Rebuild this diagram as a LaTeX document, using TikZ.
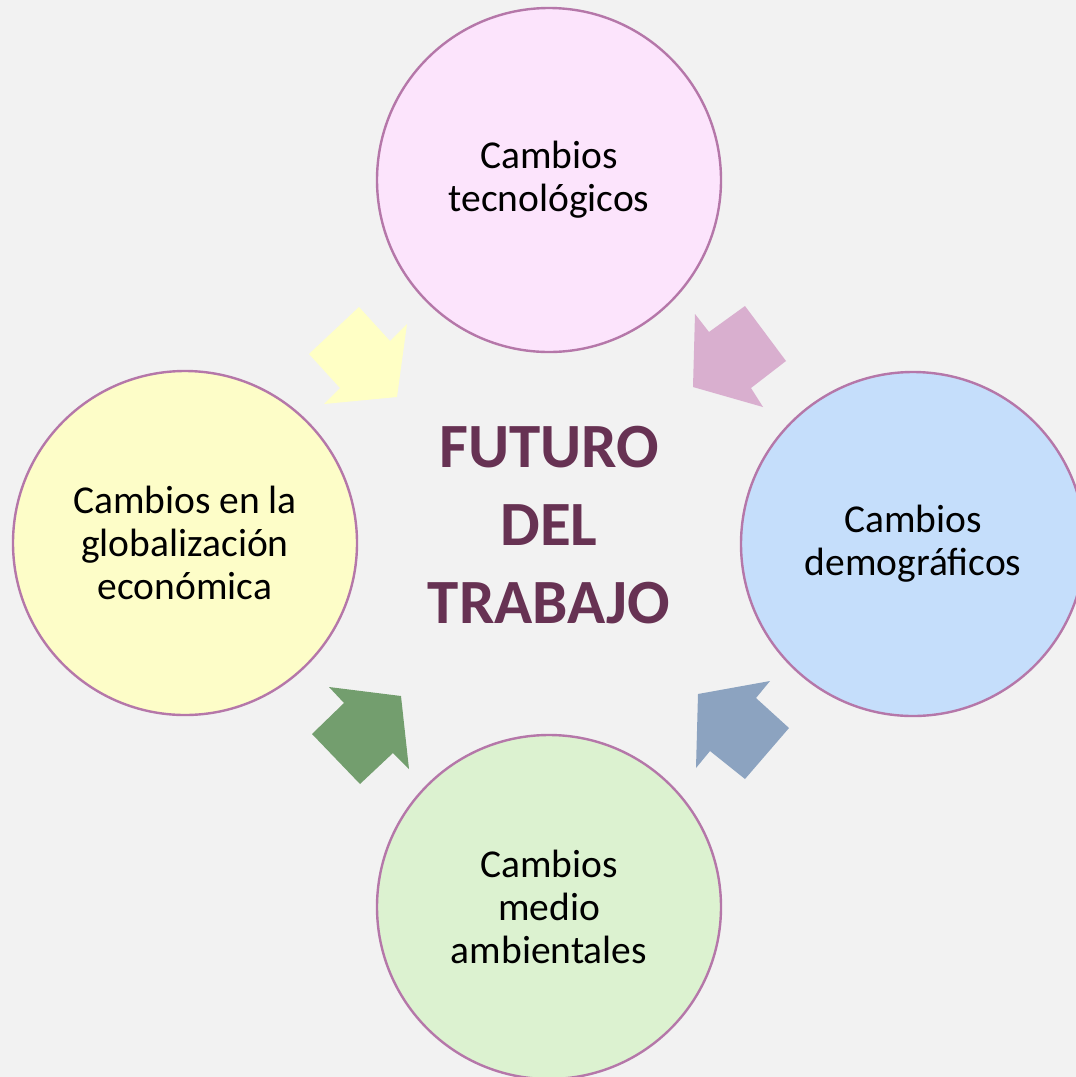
\documentclass[tikz,border=0pt]{standalone}
\usepackage{fontspec}
\setmainfont{Carlito}
\definecolor{bgc}{HTML}{F2F2F2}
\definecolor{ringc}{HTML}{B577A9}
\definecolor{topc}{HTML}{FCE4FC}
\definecolor{rightc}{HTML}{C5DEFB}
\definecolor{bottomc}{HTML}{DCF2D0}
\definecolor{leftc}{HTML}{FDFDC8}
\definecolor{arrY}{HTML}{FFFFC5}
\definecolor{arrP}{HTML}{D9AFCF}
\definecolor{arrG}{HTML}{739E6E}
\definecolor{arrB}{HTML}{8CA3C0}
\definecolor{titlec}{HTML}{673253}
\begin{document}
\begin{tikzpicture}[x=1pt,y=-1pt,
  bubble/.style={circle,draw=ringc,line width=2.4pt,minimum size=344pt,inner sep=0pt,
    align=center,font=\fontsize{39.5}{43}\selectfont,text=black},
  blockarrow/.style={draw=none}]
\fill[bgc] (0,0) rectangle (1076,1077);
\useasboundingbox (0,0) rectangle (1076,1077);
\clip (0,0) rectangle (1076,1077);
\node[bubble,fill=topc] (top) at (549,180) {Cambios\\tecnológicos};
\node[bubble,fill=rightc] (right) at (913,544) {Cambios\\demográficos};
\node[bubble,fill=bottomc] (bottom) at (549,907) {Cambios\\medio\\ambientales};
\node[bubble,fill=leftc] (left) at (185,543) {Cambios en la\\globalización\\económica};
\node[align=center,text=titlec,font=\bfseries\fontsize{63}{78}\selectfont] (center) at (549,525) {FUTURO\\DEL\\TRABAJO};
\fill[arrY,blockarrow] (359,307) -- (390,341) -- (407,324) -- (397,397) -- (324,404) -- (340,388) -- (309,354) -- cycle;
\fill[arrP,blockarrow] (695,314) -- (709,332) -- (745,306) -- (786,361) -- (751,388) -- (763,407) -- (693,387) -- cycle;
\fill[arrG,blockarrow] (329,687) -- (401,696) -- (409,769) -- (393,753) -- (360,784) -- (312,734) -- (344,703) -- cycle;
\fill[arrB,blockarrow] (770,681) -- (756,698) -- (789,728) -- (745,779) -- (710,751) -- (696,768) -- (698,694) -- cycle;
\end{tikzpicture}
\end{document}
